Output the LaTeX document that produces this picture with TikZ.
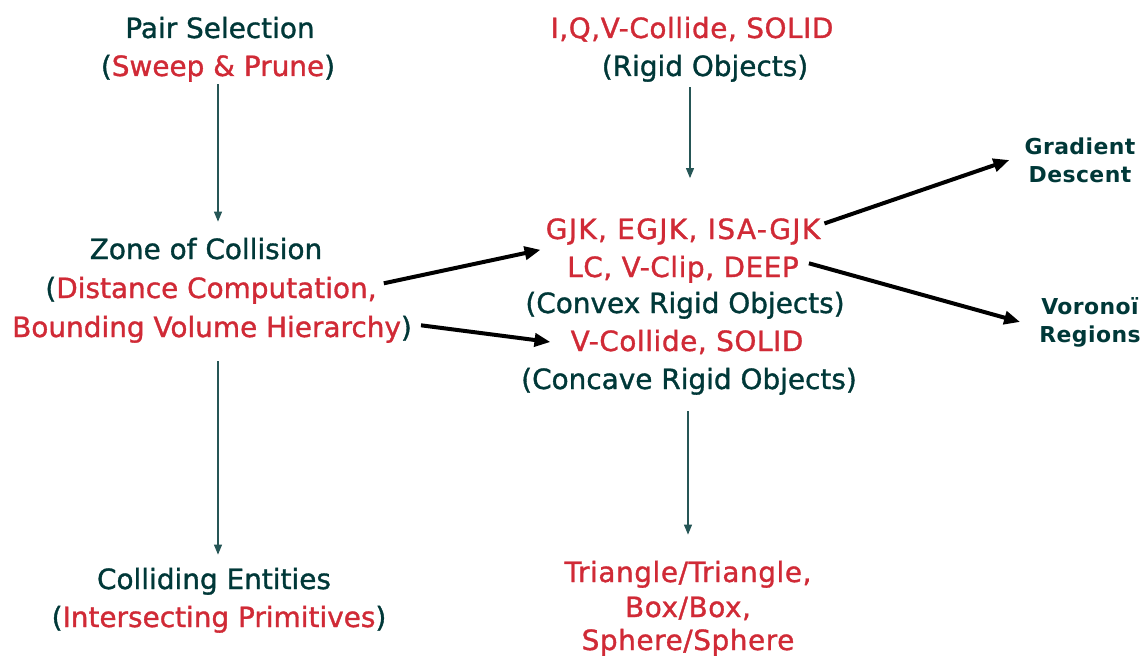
\documentclass[tikz,border=0pt]{standalone}
\usepackage{fontspec}
\setmainfont{DejaVu Sans}
\usetikzlibrary{arrows.meta}
\definecolor{ink}{RGB}{0,56,56}
\definecolor{hl}{RGB}{208,42,54}
\begin{document}
\begin{tikzpicture}[x=1bp,y=-1bp,
  line/.style={inner sep=2bp, anchor=base, text=ink,
               font=\fontsize{28}{32}\selectfont\addfontfeature{FakeBold=1.2}},
  hi/.style={line, text=hl},
  wide/.style={font=\fontsize{28}{32}\selectfont\addfontfeature{FakeBold=1.2,LetterSpace=#1}},
  side/.style={inner sep=2bp, anchor=center, align=center, text=ink,
               font=\bfseries\fontsize{22}{28}\selectfont\addfontfeature{LetterSpace=2}},
  flow/.style={draw=ink!85, line width=1.1bp, -{Triangle[length=10bp,width=8bp]}},
  jump/.style={draw=black, line width=4bp, -{Triangle[length=16bp,width=13bp]}}]
\path[use as bounding box] (0,0) rectangle (1148,657);

% left column
\node[line] (ps1) at (220,38) {Pair Selection};
\node[line] (ps2) at (218,76) {(\textcolor{hl}{Sweep \& Prune})};
\node[line] (zc1) at (206,259) {Zone of Collision};
\node[line] (zc2) at (211,298) {(\textcolor{hl}{Distance Computation,}};
\node[line] (zc3) at (212,337) {\textcolor{hl}{Bounding Volume Hierarchy})};
\node[line] (ce1) at (214,589) {Colliding Entities};
\node[line] (ce2) at (219,627) {(\textcolor{hl}{Intersecting Primitives})};

% centre column
\node[hi, wide=2] (iq) at (692,38) {I,Q,V-Collide, SOLID};
\node[line] (ro) at (705,76) {(Rigid Objects)};
\node[hi, wide=5] (g1) at (683,239) {GJK, EGJK, ISA-GJK};
\node[hi, wide=2] (g2) at (683,277) {LC, V-Clip, DEEP};
\node[line] (cv) at (685,313) {(Convex Rigid Objects)};
\node[hi, wide=2] (vs) at (687,351) {V-Collide, SOLID};
\node[line] (cc) at (689,389) {(Concave Rigid Objects)};
\node[hi, wide=2] (t1) at (688,582) {Triangle/Triangle,};
\node[hi, wide=2] (t2) at (688,617) {Box/Box,};
\node[hi, wide=2] (t3) at (688,650) {Sphere/Sphere};

% right column
\node[side] (gd) at (1080,160) {Gradient\\Descent};
\node[side] (vr) at (1090,322) {Vorono\"\i\\Regions};

% thin vertical arrows
\draw[flow, shorten >=14bp] (ps2.south) -- (ps2.south |- zc1.north);
\draw[flow, shorten <=16bp, shorten >=11bp] ([xshift=6bp]zc3.south) -- ([xshift=6bp]zc3.south |- ce1.north);
\draw[flow, shorten <=3bp, shorten >=38bp] ([xshift=-2bp]iq.south |- ro.south) -- ([xshift=-2bp]iq.south |- g1.north);
\draw[flow, shorten <=14bp, shorten >=24bp] ([xshift=-1bp]cc.south) -- ([xshift=-1bp]cc.south |- t1.north);

% thick arrows
\draw[jump] ([xshift=5bp,yshift=7bp]zc2.east) -- ([xshift=-3bp,yshift=-3bp]g1.south west);
\draw[jump] ([xshift=7bp,yshift=4bp]zc3.east) -- ([xshift=-18bp]vs.west);
\draw[jump] ([xshift=2bp,yshift=8bp]g1.east) -- ([xshift=-13bp]gd.west);
\draw[jump] ([xshift=8bp,yshift=6bp]g2.east) -- ([xshift=-17bp]vr.west);
\end{tikzpicture}
\end{document}
